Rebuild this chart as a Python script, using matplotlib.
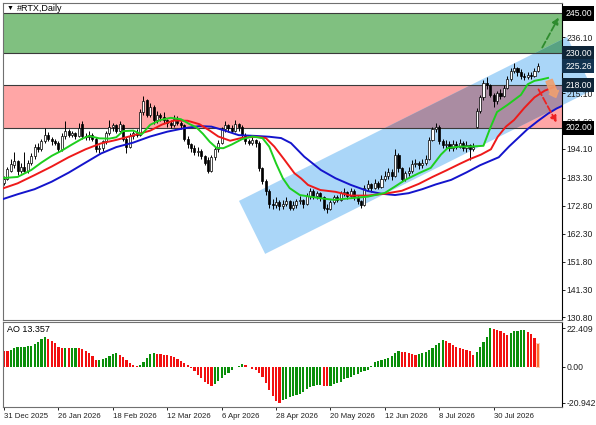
import numpy as np
import matplotlib
matplotlib.use('Agg')
import matplotlib.pyplot as plt
from matplotlib.patches import Polygon, Rectangle

plt.rcParams['font.family'] = ['Liberation Sans', 'DejaVu Sans']

## RTX daily candles, 31 Dec 2025 .. Aug 2026
opens = [181.5, 183.0, 186.0, 188.0, 189.5, 186.0, 187.5, 186.0, 189.0, 191.5,
         195.0, 194.0, 197.0, 199.5, 198.0, 197.0, 196.5, 194.0, 199.0, 201.0,
         199.5, 200.0, 199.0, 203.5, 199.0, 198.5, 199.5, 198.0, 194.0, 194.5,
         197.0, 200.0, 202.5, 203.0, 201.0, 203.0, 198.0, 195.0, 199.0, 200.0,
         199.5, 208.0, 212.5, 207.0, 210.0, 205.0, 207.0, 206.0, 205.0, 204.0,
         203.0, 205.5, 204.0, 203.0, 198.0, 196.0, 194.5, 193.0, 193.5, 191.5,
         190.0, 186.0, 191.0, 194.0, 196.5, 201.5, 203.0, 202.0, 201.0, 203.5,
         202.5, 199.5, 197.0, 196.5, 197.5, 196.5, 187.0, 182.0, 178.5, 173.5,
         173.0, 174.0, 172.5, 173.5, 174.5, 172.0, 173.0, 174.5, 175.0, 173.5,
         176.5, 178.5, 176.5, 177.5, 176.0, 172.0, 171.5, 174.0, 176.0, 175.0,
         177.5, 178.0, 176.5, 178.5, 176.0, 174.5, 173.0, 179.5, 181.0, 179.5,
         181.5, 180.0, 183.0, 184.0, 185.5, 184.0, 192.0, 187.0, 183.0, 185.0,
         186.0, 188.5, 189.0, 188.0, 189.0, 190.5, 197.5, 201.5, 202.5, 197.0,
         195.5, 196.0, 194.5, 196.0, 195.0, 196.5, 194.5, 195.5, 194.0, 202.5,
         208.5, 213.5, 219.0, 218.0, 214.5, 212.0, 215.0, 214.0, 217.0, 220.5,
         223.5, 224.5, 223.0, 221.5, 221.0, 222.0, 221.5, 223.5]
highs = [184.0, 187.5, 190.5, 193.0, 190.0, 189.0, 193.0, 190.0, 192.5, 196.0,
         196.5, 198.0, 202.0, 200.5, 198.5, 198.0, 197.0, 200.0, 204.5, 201.5,
         201.0, 200.5, 204.0, 204.5, 200.0, 201.0, 200.0, 198.5, 195.5, 197.5,
         201.0, 205.0, 204.0, 203.5, 204.5, 203.5, 198.5, 200.0, 201.0, 201.5,
         209.0, 214.0, 213.0, 211.5, 210.5, 208.5, 207.5, 208.0, 205.5, 205.0,
         207.0, 206.5, 204.5, 203.5, 199.0, 196.5, 195.5, 195.0, 194.0, 192.0,
         191.0, 192.0, 195.0, 197.5, 202.5, 204.5, 203.5, 203.0, 205.0, 204.0,
         203.0, 200.0, 198.0, 198.5, 198.0, 197.0, 187.5, 183.0, 179.0, 175.5,
         176.0, 175.0, 175.0, 176.0, 175.0, 174.5, 175.5, 176.5, 175.5, 177.5,
         179.5, 179.0, 178.5, 178.0, 176.5, 173.5, 175.0, 177.0, 177.0, 178.5,
         179.5, 178.5, 179.5, 179.0, 177.0, 175.0, 180.5, 182.5, 181.5, 183.0,
         182.0, 184.5, 186.0, 187.0, 186.5, 194.0, 192.5, 187.5, 186.0, 187.5,
         190.0, 190.5, 189.5, 190.5, 192.0, 198.5, 202.5, 204.0, 203.0, 198.0,
         197.5, 197.0, 197.5, 197.0, 198.0, 197.0, 197.0, 196.0, 196.5, 209.5,
         214.5, 220.0, 221.0, 218.5, 215.0, 216.0, 216.5, 218.0, 221.5, 224.5,
         226.5, 225.0, 224.0, 222.5, 223.0, 223.0, 224.5, 226.5]
lows = [180.5, 182.5, 185.5, 187.0, 184.5, 185.0, 185.5, 185.0, 188.0, 190.5,
        193.0, 193.5, 196.5, 197.0, 195.5, 195.5, 193.0, 193.5, 198.0, 198.5,
        198.5, 198.0, 198.5, 198.0, 197.5, 197.5, 197.0, 193.0, 192.5, 193.5,
        196.0, 199.5, 201.0, 200.0, 200.5, 197.0, 192.5, 194.5, 198.0, 198.5,
        199.0, 207.0, 206.0, 206.0, 203.5, 204.0, 204.5, 204.0, 202.5, 202.0,
        202.5, 203.0, 201.5, 197.0, 194.5, 193.0, 192.0, 191.5, 190.5, 188.0,
        185.0, 185.5, 190.0, 193.0, 196.0, 200.5, 200.5, 200.0, 200.5, 201.0,
        198.5, 196.0, 195.5, 195.5, 195.0, 186.0, 181.0, 177.0, 172.0, 171.5,
        172.0, 171.0, 171.5, 172.5, 171.0, 171.0, 172.0, 173.5, 172.0, 173.0,
        175.5, 175.5, 175.5, 174.5, 171.0, 170.0, 171.0, 173.5, 174.0, 174.5,
        176.5, 175.5, 176.0, 175.0, 173.5, 172.0, 172.5, 178.5, 178.0, 179.0,
        179.0, 179.5, 182.0, 183.0, 182.5, 183.5, 185.5, 182.0, 182.0, 184.0,
        185.0, 187.5, 186.5, 187.0, 188.0, 190.0, 197.0, 200.5, 196.0, 194.5,
        194.5, 193.5, 193.5, 194.0, 194.5, 193.5, 193.0, 190.0, 193.5, 202.0,
        207.5, 212.5, 216.5, 213.5, 210.0, 211.0, 213.0, 213.5, 216.5, 219.5,
        222.5, 221.5, 220.5, 220.0, 220.5, 220.5, 221.0, 223.0]
closes = [183.0, 186.5, 188.5, 189.5, 186.0, 187.5, 186.0, 189.0, 191.5, 195.0,
          194.0, 197.0, 199.5, 198.0, 197.0, 196.5, 194.0, 199.0, 201.0, 199.5,
          200.0, 199.0, 202.0, 199.0, 198.5, 199.5, 198.0, 194.0, 194.5, 197.0,
          200.0, 202.5, 203.0, 201.0, 203.5, 198.0, 195.0, 199.0, 200.0, 199.5,
          208.0, 212.0, 207.0, 210.0, 205.0, 207.0, 206.0, 205.0, 204.0, 203.0,
          205.5, 204.0, 203.0, 198.0, 196.0, 194.5, 193.0, 193.5, 191.5, 189.0,
          186.0, 191.0, 194.0, 196.5, 201.5, 203.0, 202.0, 201.0, 203.5, 202.5,
          199.5, 197.0, 196.5, 197.5, 196.5, 187.0, 182.0, 178.5, 173.5, 173.0,
          174.0, 172.5, 173.5, 174.5, 172.0, 173.0, 174.5, 175.0, 173.5, 176.5,
          178.5, 176.5, 177.5, 176.0, 172.0, 171.5, 174.0, 176.0, 175.0, 177.5,
          178.0, 176.5, 178.5, 176.0, 174.5, 173.0, 179.5, 181.0, 179.5, 181.5,
          180.0, 183.0, 184.0, 185.5, 184.0, 192.0, 187.0, 183.0, 185.0, 186.0,
          188.5, 189.0, 188.0, 189.0, 190.5, 197.5, 201.5, 202.5, 197.0, 195.5,
          196.0, 194.5, 196.0, 195.0, 196.5, 194.5, 195.5, 194.0, 195.0, 208.5,
          213.5, 219.0, 218.0, 214.5, 212.0, 215.0, 214.0, 217.0, 220.5, 223.5,
          224.5, 223.0, 221.5, 221.0, 222.0, 221.5, 223.5, 225.26]

## alligator lines (shifted forward past the last bar)
lips_x = [-1, 4, 8, 11, 14, 17, 20, 23, 25, 28,
          31, 33, 35, 38, 40.5, 43, 46, 49, 52, 54.5,
          56.5, 58.5, 60.5, 62.5, 64.5, 67, 70, 73, 76, 78,
          80, 82, 84, 87, 90, 93, 97, 102, 107, 112,
          115, 118, 122, 125.5, 128.5, 130.5, 134, 137, 141, 143,
          145, 148, 152, 154, 156, 158, 160]
lips_y = [183.1, 183.6, 186.2, 189.0, 191.5, 193.5, 195.8, 198.0, 199.0, 198.1,
          198.0, 198.5, 200.8, 201.0, 199.6, 203.2, 205.0, 205.8, 205.3, 203.5,
          202.3, 199.8, 196.8, 194.5, 194.4, 195.8, 197.8, 198.8, 198.2, 195.0,
          188.7, 183.1, 179.4, 176.8, 176.2, 175.6, 175.0, 175.6, 176.2, 177.6,
          180.0, 182.5, 185.0, 187.0, 192.0, 194.5, 195.0, 195.0, 195.3, 202.0,
          208.0, 210.6, 214.4, 218.4, 219.7, 220.2, 220.8]
teeth_x = [-1, 4, 9, 14, 19, 24, 28.5, 33, 38, 43,
           46.5, 50, 54, 57.5, 60.5, 63, 66.5, 70, 74, 77,
           79.5, 82.5, 85.4, 87.4, 89.4, 93, 97.5, 102, 107, 112,
           117, 122, 126, 130, 134, 137, 140.3, 143.2, 145.2, 147.6,
           150, 153, 156, 159, 162]
teeth_y = [179.0, 181.2, 184.3, 187.5, 191.0, 194.0, 196.2, 197.5, 199.2, 201.0,
           203.3, 204.8, 204.7, 203.4, 201.0, 198.8, 197.2, 198.3, 198.7, 198.2,
           195.0, 190.0, 185.0, 183.0, 180.6, 178.7, 178.0, 176.6, 176.6, 177.3,
           178.4, 181.0, 183.6, 186.0, 188.5, 190.3, 192.0, 194.0, 198.7, 202.5,
           205.0, 209.5, 213.5, 216.0, 217.5]
jaw_x = [-1, 4, 9, 14, 19, 24, 28.5, 33, 38, 43,
         48, 53, 57.5, 61, 65, 69, 74, 78, 81.5, 84.4,
         88.3, 93.2, 97.5, 102, 107, 111, 115, 119, 123, 127,
         131.5, 136, 140, 145.5, 148.5, 151, 154, 157, 160, 162.5,
         165]
jaw_y = [175.0, 177.1, 179.0, 181.8, 185.2, 189.0, 192.4, 194.8, 196.5, 198.8,
         200.6, 201.9, 202.7, 202.5, 201.0, 199.3, 199.0, 198.7, 198.2, 196.3,
         191.2, 186.2, 183.1, 180.6, 178.3, 177.3, 176.8, 177.5, 179.0, 180.8,
         182.5, 185.3, 188.0, 191.0, 195.0, 198.0, 201.6, 204.6, 207.4, 209.3,
         210.8]

## awesome oscillator
ao = [9.3, 8.9, 10.0, 10.7, 11.3, 11.6, 11.7, 11.8, 12.2, 13.2,
      14.5, 16.1, 17.1, 16.1, 15.1, 13.6, 11.6, 10.7, 11.0, 10.8,
      11.0, 11.1, 10.6, 10.1, 9.1, 7.8, 6.4, 4.0, 4.1, 4.3,
      5.0, 6.5, 7.6, 7.9, 7.0, 5.6, 3.9, 2.0, 1.0, 0.4,
      0.9, 3.0, 5.3, 7.2, 8.2, 7.6, 7.3, 7.1, 6.9, 6.3,
      5.5, 4.5, 3.3, 2.2, 0.8, -0.6, -2.5, -4.6, -6.8, -8.8,
      -10.2, -11.0, -10.0, -8.5, -6.7, -5.0, -3.4, -1.8, -0.4, 0.6,
      1.4, 0.8, -0.3, -1.2, -2.0, -3.5, -6.0, -9.5, -13.5, -17.0,
      -19.8, -20.942, -19.5, -18.5, -17.8, -17.0, -16.5, -15.8, -14.5, -13.0,
      -11.8, -11.2, -10.8, -10.6, -11.0, -11.2, -11.0, -10.2, -9.6, -8.6,
      -7.4, -6.5, -5.8, -5.0, -4.1, -3.2, -2.4, -1.7, 0.5, 2.5,
      3.3, 3.7, 4.3, 5.0, 6.2, 7.8, 8.9, 8.7, 8.5, 8.0,
      7.2, 6.8, 7.3, 7.8, 8.5, 9.8, 11.0, 12.6, 14.0, 15.5,
      15.2, 14.0, 12.5, 11.4, 10.9, 10.5, 10.0, 9.2, 6.8, 8.7,
      11.5, 14.5, 17.5, 22.409, 22.0, 21.5, 20.6, 19.5, 18.6, 19.5,
      20.6, 21.0, 21.3, 21.4, 20.2, 18.9, 16.5, 13.357]

date_ticks = [0, 16, 32, 48, 64, 80, 96, 112, 128, 144]
date_labels = ['31 Dec 2025', '26 Jan 2026', '18 Feb 2026', '12 Mar 2026', '6 Apr 2026',
               '28 Apr 2026', '20 May 2026', '12 Jun 2026', '8 Jul 2026', '30 Jul 2026']
price_ticks = [130.8, 141.3, 151.8, 162.3, 172.8, 183.3, 194.1, 204.6, 215.1, 225.6, 236.1, 246.6]
ao_ticks = [22.409, 0.0, -20.942]
ao_tick_labels = ['22.409', '0.00', '-20.942']

buy_zone = (230.0, 245.0)
sell_zone = (202.0, 218.0)
channel = [(69.1, 174.6), (76.8, 154.7), (173.2, 216.3), (165.6, 236.2)]
last_price = 225.26
boxes = [(245.0, 'black'), (230.0, '#0f2538'), (last_price, '#123350'),
         (218.0, '#0f2538'), (202.0, 'black')]

o = np.array(opens)
h = np.array(highs)
l = np.array(lows)
c = np.array(closes)
bars = np.arange(len(c))

fig = plt.figure(figsize=(5.96, 4.25), dpi=100)
ax = fig.add_axes([3/596, 105/425, 559/596, 317/425])
ax2 = fig.add_axes([3/596, 18/425, 559/596, 85/425])

## zones and channel
ax.axhspan(*buy_zone, facecolor='#80c080', lw=0, zorder=0.5)
ax.axhspan(*sell_zone, facecolor='#ffa6a6', lw=0, zorder=0.5)
chan = Polygon(channel, closed=True, fc='#aad6f8', ec='none', zorder=0.6, clip_on=False)
ax.add_patch(chan)
for (lo, hi), col in [(sell_zone, '#aa8ca2'), (buy_zone, '#58a282')]:
    r = Rectangle((0, lo), 1, hi - lo, transform=ax.get_yaxis_transform(),
                  fc=col, ec='none', zorder=0.7)
    ax.add_patch(r)
    r.set_clip_path(chan)
for lv in list(buy_zone) + list(sell_zone):
    ax.axhline(lv, color='#3a3a3a', lw=0.8, zorder=1)

## candles
up = c >= o
ax.vlines(bars, l, h, color='black', lw=0.7, zorder=2)
ax.bar(bars, np.maximum(np.abs(c - o), 0.25), bottom=np.minimum(o, c), width=0.62,
       color=np.where(up, 'white', 'black'), edgecolor='black', lw=0.5, zorder=2.2)

ax.plot(jaw_x, jaw_y, color='#1414cc', lw=1.4, zorder=3)
ax.plot(teeth_x, teeth_y, color='#ee1a1a', lw=1.4, zorder=3.1)
ax.plot(lips_x, lips_y, color='#1ecf1e', lw=1.4, zorder=3.2)

## scenario arrows
ax.annotate('', xy=(163.5, 244.4), xytext=(157.9, 231.3), zorder=5,
            arrowprops=dict(arrowstyle='-|>', color='#2e8b2e', lw=1.3, ls='--', mutation_scale=9))
ax.annotate('', xy=(162.9, 203.1), xytext=(156.8, 217.4), zorder=5,
            arrowprops=dict(arrowstyle='-|>', color='#ee2222', lw=1.3, ls='--', mutation_scale=9))
ax.annotate('', xy=(162.6, 212.5), xytext=(160.0, 220.8), zorder=5,
            arrowprops=dict(arrowstyle='simple,head_length=0.5,head_width=0.9,tail_width=0.6',
                            color='#f0a070', alpha=0.9, mutation_scale=8))

ax.set_xlim(-0.3, 164.1)
ax.set_ylim(129.86, 248.94)
ax.set_xticks([])
ax.yaxis.tick_right()
ax.set_yticks(price_ticks)
ax.set_yticklabels([f'{v:.2f}' for v in price_ticks])
ax.tick_params(axis='y', length=2, width=0.6, pad=1.2, labelsize=6.2, labelcolor='#202020')

for v, col in boxes:
    ax.text(1.0055, v, f'{v:.2f}', transform=ax.get_yaxis_transform(), ha='left', va='center',
            fontsize=6.2, color='white', zorder=6,
            bbox=dict(boxstyle='square,pad=0.3', fc=col, ec='none'))

ax.text(0.006, 0.984, '▼', transform=ax.transAxes, fontsize=5, va='center')
ax.text(0.025, 0.984, '#RTX,Daily', transform=ax.transAxes, fontsize=6.5, va='center')

## AO panel
ao = np.array(ao)
cols = np.where(np.diff(ao, prepend=ao[0]) > 0, '#0a8f0a', '#f21010').astype(object)
cols[-1] = '#ff6a2a'
ax2.bar(bars[-1], ao[-1] + 1.2, bottom=-0.6, width=1.2, color='#ffc4a8', alpha=0.8, zorder=1.5)
ax2.bar(bars, ao, width=0.66, color=list(cols), zorder=2)
ax2.set_xlim(-0.3, 164.1)
ax2.set_ylim(-23.4, 26.0)
ax2.yaxis.tick_right()
ax2.set_yticks(ao_ticks)
ax2.set_yticklabels(ao_tick_labels)
ax2.tick_params(axis='y', length=2, width=0.6, pad=1.2, labelsize=6.2, labelcolor='#202020')
ax2.set_xticks(date_ticks)
ax2.set_xticklabels(date_labels, ha='left')
ax2.tick_params(axis='x', length=2.5, width=0.6, pad=1.5, labelsize=5.6, labelcolor='#202020')
ax2.text(0.007, 0.91, 'AO 13.357', transform=ax2.transAxes, fontsize=6.5, va='center')

for a in (ax, ax2):
    for sp in a.spines.values():
        sp.set_color('#707070')
        sp.set_linewidth(0.8)
    a.spines['right'].set_color('black')

fig.savefig('out.png', dpi=100)
